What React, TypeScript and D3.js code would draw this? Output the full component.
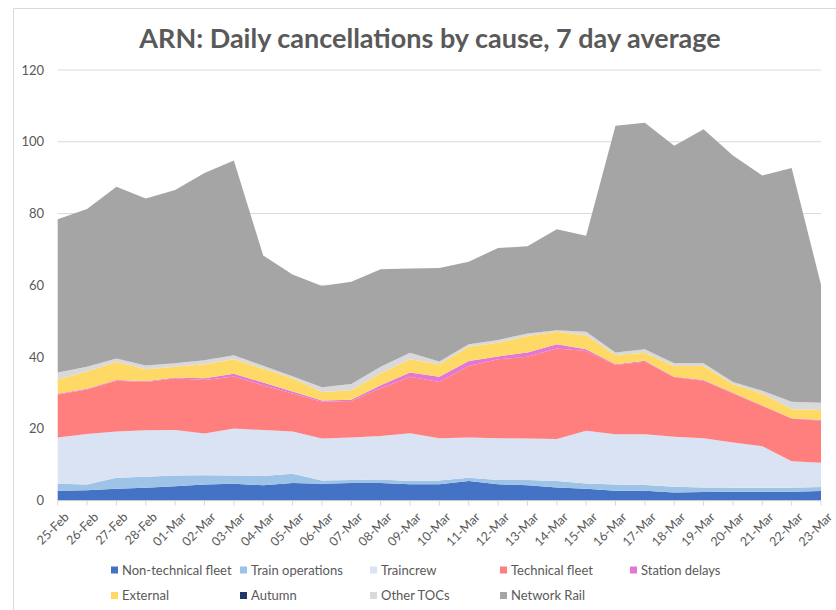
import React from 'react';
import * as d3 from 'd3';

const dates = [
  '25-Feb', '26-Feb', '27-Feb', '28-Feb', '01-Mar', '02-Mar', '03-Mar', '04-Mar', '05-Mar',
  '06-Mar', '07-Mar', '08-Mar', '09-Mar', '10-Mar', '11-Mar', '12-Mar', '13-Mar', '14-Mar',
  '15-Mar', '16-Mar', '17-Mar', '18-Mar', '19-Mar', '20-Mar', '21-Mar', '22-Mar', '23-Mar'
];

const nonTechnicalFleet = [2.8, 2.9, 3.3, 3.6, 4.0, 4.5, 4.7, 4.3, 4.9, 4.7, 4.9, 4.9, 4.6, 4.6, 5.5, 4.6, 4.3, 3.7, 3.3, 2.8, 2.8, 2.3, 2.4, 2.5, 2.5, 2.5, 2.7];
const trainOperations = [1.9, 1.6, 3.1, 3.1, 3.0, 2.6, 2.3, 2.6, 2.6, 0.9, 0.9, 1.0, 0.9, 1.0, 0.9, 1.2, 1.5, 1.8, 1.5, 1.7, 1.6, 1.6, 1.3, 1.1, 1.1, 1.1, 1.1];
const traincrew = [12.9, 14.1, 12.9, 12.9, 12.7, 11.6, 13.1, 12.8, 11.8, 11.7, 11.8, 12.1, 13.3, 11.8, 11.2, 11.6, 11.5, 11.7, 14.7, 14.0, 14.1, 13.9, 13.7, 12.6, 11.6, 7.4, 6.8];
const technicalFleet = [12.0, 12.4, 14.1, 13.5, 14.4, 14.9, 14.5, 12.5, 10.6, 10.3, 10.2, 13.3, 15.7, 15.7, 19.9, 22.0, 22.8, 25.2, 22.2, 19.3, 20.2, 16.6, 16.0, 13.7, 11.2, 11.9, 11.7];
const stationDelays = [0.2, 0.2, 0.2, 0.2, 0.2, 0.5, 0.8, 0.7, 0.5, 0.3, 0.3, 0.9, 1.2, 1.4, 1.4, 0.8, 1.2, 1.2, 0.5, 0.2, 0.3, 0.1, 0.2, 0.2, 0.1, 0.1, 0.2];
const external = [4.0, 4.8, 5.1, 3.3, 3.0, 3.9, 4.0, 3.9, 3.7, 2.4, 2.7, 3.3, 3.7, 3.5, 4.0, 3.8, 4.6, 3.5, 3.9, 2.6, 2.2, 3.0, 3.9, 2.4, 3.4, 2.5, 2.8];
const autumn = [0, 0, 0, 0, 0, 0, 0, 0, 0, 0, 0, 0, 0, 0, 0, 0, 0, 0, 0, 0, 0, 0, 0, 0, 0, 0, 0];
const otherTOCs = [1.9, 1.3, 0.9, 1.1, 1.0, 1.1, 1.1, 0.8, 0.6, 1.3, 1.7, 1.8, 1.8, 0.8, 0.7, 0.8, 0.7, 0.4, 1.0, 0.7, 1.0, 0.8, 0.8, 0.6, 0.7, 2.1, 2.0];
const networkRail = [42.7, 44.0, 47.9, 46.5, 48.3, 52.2, 54.3, 30.7, 28.3, 28.2, 28.5, 27.2, 23.5, 26.0, 23.0, 25.6, 24.3, 28.1, 26.7, 63.2, 63.1, 60.6, 65.2, 63.1, 60.0, 65.1, 32.9];

const yTicks = [0, 20, 40, 60, 80, 100, 120];

const series = [
  { name: 'Non-technical fleet', values: nonTechnicalFleet, color: '#4472C4' },
  { name: 'Train operations', values: trainOperations, color: '#9DC3E6' },
  { name: 'Traincrew', values: traincrew, color: '#DAE3F3' },
  { name: 'Technical fleet', values: technicalFleet, color: '#FF7F7F' },
  { name: 'Station delays', values: stationDelays, color: '#E377D6' },
  { name: 'External', values: external, color: '#FFD966' },
  { name: 'Autumn', values: autumn, color: '#203864' },
  { name: 'Other TOCs', values: otherTOCs, color: '#D9D9D9' },
  { name: 'Network Rail', values: networkRail, color: '#A5A5A5' }
];

export default function App() {
  const width = 836;
  const height = 610;
  const margin = { top: 70, right: 15, bottom: 109.3, left: 57.7 };
  const font = 'Lato, "Open Sans", sans-serif';
  const textColor = '#595959';

  const xScale = d3.scalePoint<string>()
    .domain(dates)
    .range([margin.left, width - margin.right]);
  const yScale = d3.scaleLinear()
    .domain([0, 120])
    .range([height - margin.bottom, margin.top]);

  const rows = dates.map((d, i) => {
    const row: any = { date: d };
    series.forEach(s => { row[s.name] = s.values[i]; });
    return row;
  });
  const stacked = d3.stack<any>().keys(series.map(s => s.name))(rows);

  const area = d3.area<any>()
    .x(d => xScale(d.data.date) as number)
    .y0(d => yScale(d[0]))
    .y1(d => yScale(d[1]));

  const baseY = yScale(0);

  // legend grid: 5 columns, 2 rows
  const legendX = [111, 240, 370, 500, 630];
  const legendY = [570, 595.5];

  return (
    <svg width={width} height={height} style={{ position: 'absolute', left: 0, top: 0, background: '#fff' }}>
      <line x1={13.5} x2={13.5} y1={8.5} y2={height} stroke="#D9D9D9" />
      <line x1={13.5} x2={width} y1={8.5} y2={8.5} stroke="#D9D9D9" />

      <text x={430} y={48} textAnchor="middle" fontFamily={font} fontWeight="bold" fontSize={27} fill={textColor}>
        ARN: Daily cancellations by cause, 7 day average
      </text>

      {yTicks.map(t => (
        <g key={t}>
          {t > 0 && (
            <line x1={margin.left} x2={width - margin.right} y1={yScale(t)} y2={yScale(t)} stroke="#D9D9D9" />
          )}
          <text x={44} y={yScale(t)} dy="0.35em" textAnchor="end" fontFamily={font} fontSize={13} fill={textColor}>
            {t}
          </text>
        </g>
      ))}

      {stacked.map((layer, i) => (
        <path key={layer.key} d={area(layer) as string} fill={series[i].color} />
      ))}

      <line x1={margin.left} x2={width - margin.right} y1={baseY} y2={baseY} stroke="#D9D9D9" />
      {dates.map(d => (
        <g key={d} transform={`translate(${xScale(d)},${baseY})`}>
          <line y1={0} y2={5} stroke="#D9D9D9" />
          <text transform="translate(9,14) rotate(-45)" textAnchor="end" dy="0.35em" fontFamily={font} fontSize={12.5} fill={textColor}>
            {d}
          </text>
        </g>
      ))}

      {series.map((s, i) => {
        const lx = legendX[i % 5];
        const ly = legendY[Math.floor(i / 5)];
        return (
          <g key={s.name}>
            <rect x={lx} y={ly - 3.5} width={7} height={7} fill={s.color} />
            <text x={lx + 11} y={ly} dy="0.35em" fontFamily={font} fontSize={13} fill={textColor}>
              {s.name}
            </text>
          </g>
        );
      })}
    </svg>
  );
}
